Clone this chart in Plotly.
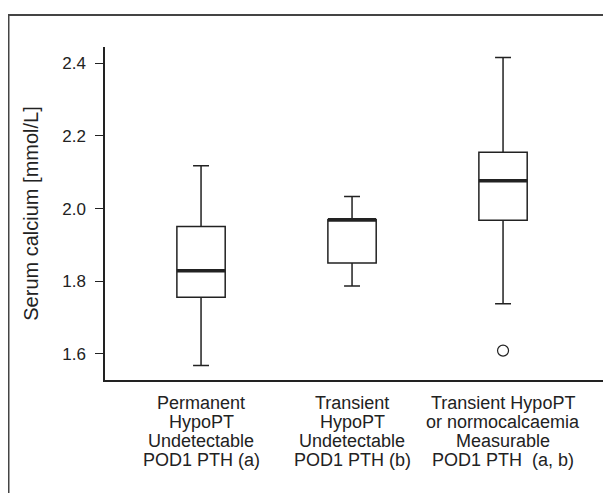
import plotly.graph_objects as go

# ---- data ----
categories = [
    "Permanent<br>HypoPT<br>Undetectable<br>POD1 PTH (a)",
    "Transient<br>HypoPT<br>Undetectable<br>POD1 PTH (b)",
    "Transient HypoPT<br>or normocalcaemia<br>Measurable<br>POD1 PTH  (a, b)",
]
lower_whisker = [1.568, 1.787, 1.738]
q1_values = [1.756, 1.850, 1.968]
median_values = [1.829, 1.969, 2.077]
q3_values = [1.951, 1.969, 2.155]
upper_whisker = [2.118, 2.033, 2.416]
outlier_cat = [2]
outlier_values = [1.609]
y_tick_values = [1.6, 1.8, 2.0, 2.2, 2.4]
y_tick_labels = ["1.6", "1.8", "2.0", "2.2", "2.4"]
y_title = "Serum calcium [mmol/L]"

# ---- styling ----
# the page body adds an 8px margin, so the figure is 8px smaller
W, H = 603, 485
L, R, T, B = 97, 8, 39, 113
INK = "#222222"
BOX_W = 0.32
FONT = "Liberation Sans, Arial, sans-serif"

xpos = list(range(len(categories)))

fig = go.Figure()
fig.add_trace(go.Box(
    x=xpos,
    q1=q1_values, median=median_values, q3=q3_values,
    lowerfence=lower_whisker, upperfence=upper_whisker,
    width=BOX_W, whiskerwidth=0.33,
    fillcolor="white",
    line=dict(color=INK, width=1.5),
    boxpoints=False, hoverinfo="skip", showlegend=False,
))

# thick median bars
mx, my = [], []
for i, m in zip(xpos, median_values):
    mx += [i - BOX_W / 2, i + BOX_W / 2, None]
    my += [m, m, None]
fig.add_trace(go.Scatter(x=mx, y=my, mode="lines",
                         line=dict(color=INK, width=3.5),
                         hoverinfo="skip", showlegend=False))

# outlier
fig.add_trace(go.Scatter(x=outlier_cat, y=outlier_values, mode="markers",
                         marker=dict(symbol="circle-open", size=11,
                                     color=INK, line=dict(width=1.2)),
                         hoverinfo="skip", showlegend=False))

plot_w = W - L - R
plot_h = H - T - B

# multi-line category labels as annotations (tight line spacing)
line_gap = 19
first_center = 403 - 8
for i, cat in enumerate(categories):
    for j, line in enumerate(cat.split("<br>")):
        py = first_center + j * line_gap
        fig.add_annotation(
            x=xpos[i], xref="x", xanchor="center",
            y=(H - B - py) / plot_h, yref="paper", yanchor="middle",
            text=line, showarrow=False,
            font=dict(family=FONT, size=18, color=INK),
        )

# outer frame (left and top edges)
fx = (0.5 - L) / plot_w
fy = (H - B - 7) / plot_h
fig.add_shape(type="path", xref="paper", yref="paper",
              path=f"M {fx} -0.5 L {fx} {fy} L 1.2 {fy}",
              line=dict(color="#444444", width=2))

fig.update_layout(
    width=W, height=H,
    margin=dict(l=L, r=R, t=T, b=B, pad=0),
    paper_bgcolor="white", plot_bgcolor="white",
    showlegend=False,
    xaxis=dict(range=[-0.636, 2.662], showticklabels=False, ticks="",
               showgrid=False, zeroline=False,
               showline=True, linecolor=INK, linewidth=1.5),
    yaxis=dict(range=[1.528, 2.445], tickvals=y_tick_values, ticktext=y_tick_labels,
               ticks="outside", ticklen=8, tickwidth=1.3, tickcolor=INK,
               ticklabelstandoff=6,
               showgrid=False, zeroline=False,
               showline=True, linecolor=INK, linewidth=1.5,
               tickfont=dict(family=FONT, size=17, color=INK),
               title=dict(text=y_title, standoff=18,
                          font=dict(family=FONT, size=20, color=INK))),
)

fig.write_html("out.html")
